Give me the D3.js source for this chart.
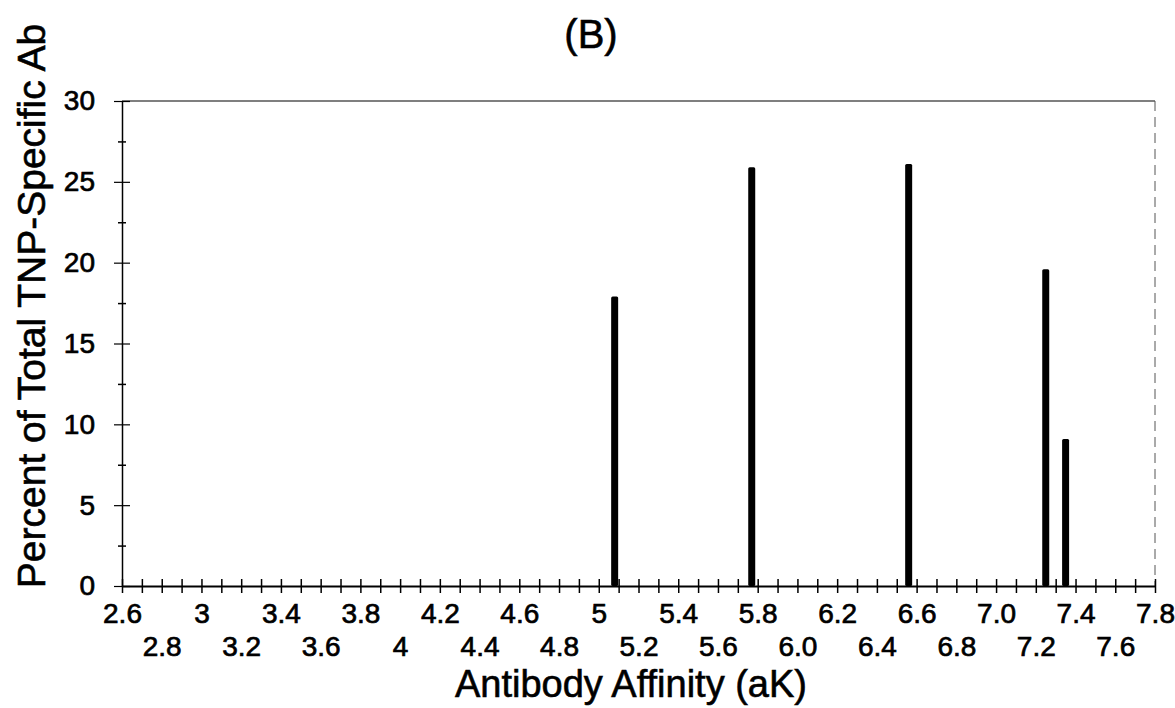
<!DOCTYPE html>
<html>
<head>
<meta charset="utf-8">
<script src="https://cdn.jsdelivr.net/npm/d3@7"></script>
<style>
  body { margin: 0; background: #fff; }
  svg { display: block; font-family: "Liberation Sans", Arial, sans-serif; }
  .axis path, .axis line { stroke: #000; }
  .axis text { fill: #000; font-size: 28px; stroke: #000; stroke-width: 0.7px; }
  .title { font-size: 38px; fill: #000; stroke: #000; stroke-width: 0.6px; }
</style>
</head>
<body>
<script>
// data
var affinity = [5.08, 5.77, 6.56, 7.25, 7.35];
var percent = [17.9, 25.9, 26.1, 19.6, 9.1];

var xLabelsTop = ['2.6', '3', '3.4', '3.8', '4.2', '4.6', '5', '5.4', '5.8', '6.2', '6.6', '7.0', '7.4', '7.8'];
var xLabelsBottom = ['2.8', '3.2', '3.6', '4', '4.4', '4.8', '5.2', '5.6', '6.0', '6.4', '6.8', '7.2', '7.6'];
var yTicks = [0, 5, 10, 15, 20, 25, 30];
var yMinorTicks = [2.5, 7.5, 12.5, 17.5, 22.5, 27.5];

var width = 1175,
    height = 708;

var margin = {top: 101, right: 20, bottom: 122, left: 122};

var svg = d3.select('body').append('svg')
  .attr('width', width)
  .attr('height', height);

var x = d3.scaleLinear()
  .domain([2.6, 7.8])
  .range([margin.left, width - margin.right]);

var y = d3.scaleLinear()
  .domain([0, 30])
  .range([height - margin.bottom, margin.top]);

var bars = affinity.map(function(d, i) { return {k: d, v: percent[i]}; });

// frame: top line solid, right side faint dashed
svg.append('line')
  .attr('x1', x(2.6)).attr('x2', x(7.8))
  .attr('y1', y(30)).attr('y2', y(30))
  .attr('stroke', '#000')
  .attr('stroke-width', 1.2);

svg.append('line')
  .attr('x1', x(7.8)).attr('x2', x(7.8))
  .attr('y1', y(30)).attr('y2', y(0))
  .attr('stroke', '#555')
  .attr('stroke-width', 1)
  .attr('stroke-dasharray', '10,6');

// bars
svg.selectAll('rect.bar')
  .data(bars)
  .enter()
  .append('rect')
  .classed('bar', true)
  .attr('x', function(d) { return x(d.k) - 3.5; })
  .attr('y', function(d) { return y(d.v); })
  .attr('width', 7)
  .attr('height', function(d) { return y(0) - y(d.v); })
  .attr('rx', 1.5)
  .attr('fill', '#000');

// x axis: small crossing ticks every 0.1
var xMinor = svg.append('g')
  .attr('class', 'axis')
  .attr('transform', 'translate(0,' + y(0) + ')')
  .call(d3.axisBottom(x)
    .tickValues(d3.range(0, 53).map(function(i) { return +(2.6 + i * 0.1).toFixed(1); }))
    .tickSize(7)
    .tickSizeOuter(0)
    .tickFormat(''));
xMinor.select('.domain').attr('stroke-width', 2);
xMinor.selectAll('.tick line').attr('y1', -7).attr('stroke-width', 1.5);

// two staggered label rows
svg.append('g')
  .attr('class', 'axis')
  .attr('transform', 'translate(0,' + y(0) + ')')
  .call(d3.axisBottom(x)
    .tickValues(xLabelsTop.map(Number))
    .tickSize(0)
    .tickPadding(17)
    .tickFormat(function(d, i) { return xLabelsTop[i]; }))
  .call(function(g) { g.select('.domain').remove(); });

svg.append('g')
  .attr('class', 'axis')
  .attr('transform', 'translate(0,' + y(0) + ')')
  .call(d3.axisBottom(x)
    .tickValues(xLabelsBottom.map(Number))
    .tickSize(0)
    .tickPadding(50)
    .tickFormat(function(d, i) { return xLabelsBottom[i]; }))
  .call(function(g) { g.select('.domain').remove(); });

// y axis
var yAxis = svg.append('g')
  .attr('class', 'axis')
  .attr('transform', 'translate(' + x(2.6) + ',0)')
  .call(d3.axisLeft(y)
    .tickValues(yTicks)
    .tickSize(8)
    .tickSizeOuter(0)
    .tickPadding(19));
yAxis.select('.domain').attr('stroke-width', 1.5);
yAxis.selectAll('.tick line').attr('x1', 8).attr('stroke-width', 1.2);

var yMinor = svg.append('g')
  .attr('class', 'axis')
  .attr('transform', 'translate(' + x(2.6) + ',0)')
  .call(d3.axisLeft(y)
    .tickValues(yMinorTicks)
    .tickSize(4)
    .tickFormat(''));
yMinor.select('.domain').remove();
yMinor.selectAll('.tick line').attr('x1', 4).attr('stroke-width', 1.5);

// titles
svg.append('text')
  .attr('class', 'title')
  .attr('x', 591)
  .attr('y', 48)
  .attr('text-anchor', 'middle')
  .style('font-size', '40px')
  .text('(B)');

svg.append('text')
  .attr('class', 'title')
  .attr('x', 631)
  .attr('y', 697)
  .attr('text-anchor', 'middle')
  .text('Antibody Affinity (aK)');

svg.append('text')
  .attr('class', 'title')
  .attr('transform', 'translate(45,' + 306 + ') rotate(-90)')
  .attr('text-anchor', 'middle')
  .style('font-size', '39px')
  .text('Percent of Total TNP-Specific Ab');
</script>
</body>
</html>
